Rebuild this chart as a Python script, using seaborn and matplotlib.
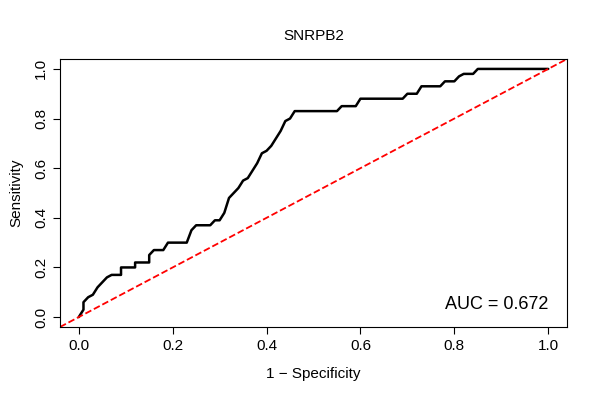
import matplotlib
matplotlib.use("Agg")
import matplotlib.pyplot as plt
import seaborn as sns
import pandas as pd

sns.set_style("white")
plt.rcParams['font.family'] = ['Liberation Sans', 'DejaVu Sans']
plt.rcParams['text.color'] = 'black'
plt.rcParams['axes.labelcolor'] = 'black'
plt.rcParams['xtick.color'] = 'black'
plt.rcParams['ytick.color'] = 'black'

fpr = [0,0.01,0.01,0.02,0.03,0.04,0.05,0.06,0.07,0.09,0.09,0.12,0.12,0.15,0.15,0.16,0.18,0.19,0.23,0.24,0.25,0.28,0.29,0.30,0.31,0.32,0.33,0.34,0.35,0.36,0.37,0.38,0.39,0.40,0.41,0.42,0.43,0.44,0.45,0.46,0.55,0.56,0.59,0.60,0.69,0.70,0.72,0.73,0.77,0.78,0.80,0.81,0.82,0.84,0.85,1.0]
tpr = [0,0.03,0.06,0.08,0.09,0.12,0.14,0.16,0.17,0.17,0.20,0.20,0.22,0.22,0.25,0.27,0.27,0.30,0.30,0.35,0.37,0.37,0.39,0.39,0.42,0.48,0.50,0.52,0.55,0.56,0.59,0.62,0.66,0.67,0.69,0.72,0.75,0.79,0.80,0.83,0.83,0.85,0.85,0.88,0.88,0.90,0.90,0.93,0.93,0.95,0.95,0.97,0.98,0.98,1.0,1.0]
ticks = [0.0, 0.2, 0.4, 0.6, 0.8, 1.0]
title = "SNRPB2"
auc_text = "AUC = 0.672"

df = pd.DataFrame({"fpr": fpr, "tpr": tpr})
fig = plt.figure(figsize=(6, 4), dpi=100)
ax = fig.add_axes([0.1, 0.1825, 0.845, 0.67])
sns.lineplot(data=df, x="fpr", y="tpr", sort=False, estimator=None, color="black", lw=1.8, ax=ax)
ax.axline((0, 0), (1, 1), color="red", ls="--", lw=1.3)
ax.set_xlim(-0.04, 1.04)
ax.set_ylim(-0.04, 1.04)
ax.set_xticks(ticks)
ax.set_yticks(ticks)
ax.set_xticklabels([f"{t:.1f}" for t in ticks], fontsize=11)
ax.set_yticklabels([f"{t:.1f}" for t in ticks], fontsize=11, rotation=90, va="center")
ax.tick_params(axis="both", length=5, width=0.8, color="black", direction="out", bottom=True, left=True)
for s in ax.spines.values():
    s.set_color("black"); s.set_linewidth(0.8)
ax.set_xlabel("1 \u2212 Specificity", fontsize=11, labelpad=10)
ax.set_ylabel("Sensitivity", fontsize=11, labelpad=8)
ax.set_title(title, fontsize=11, pad=14)
ax.text(1.0, 0.05, auc_text, fontsize=13, ha="right", va="center")
fig.savefig("out.png", dpi=100)
